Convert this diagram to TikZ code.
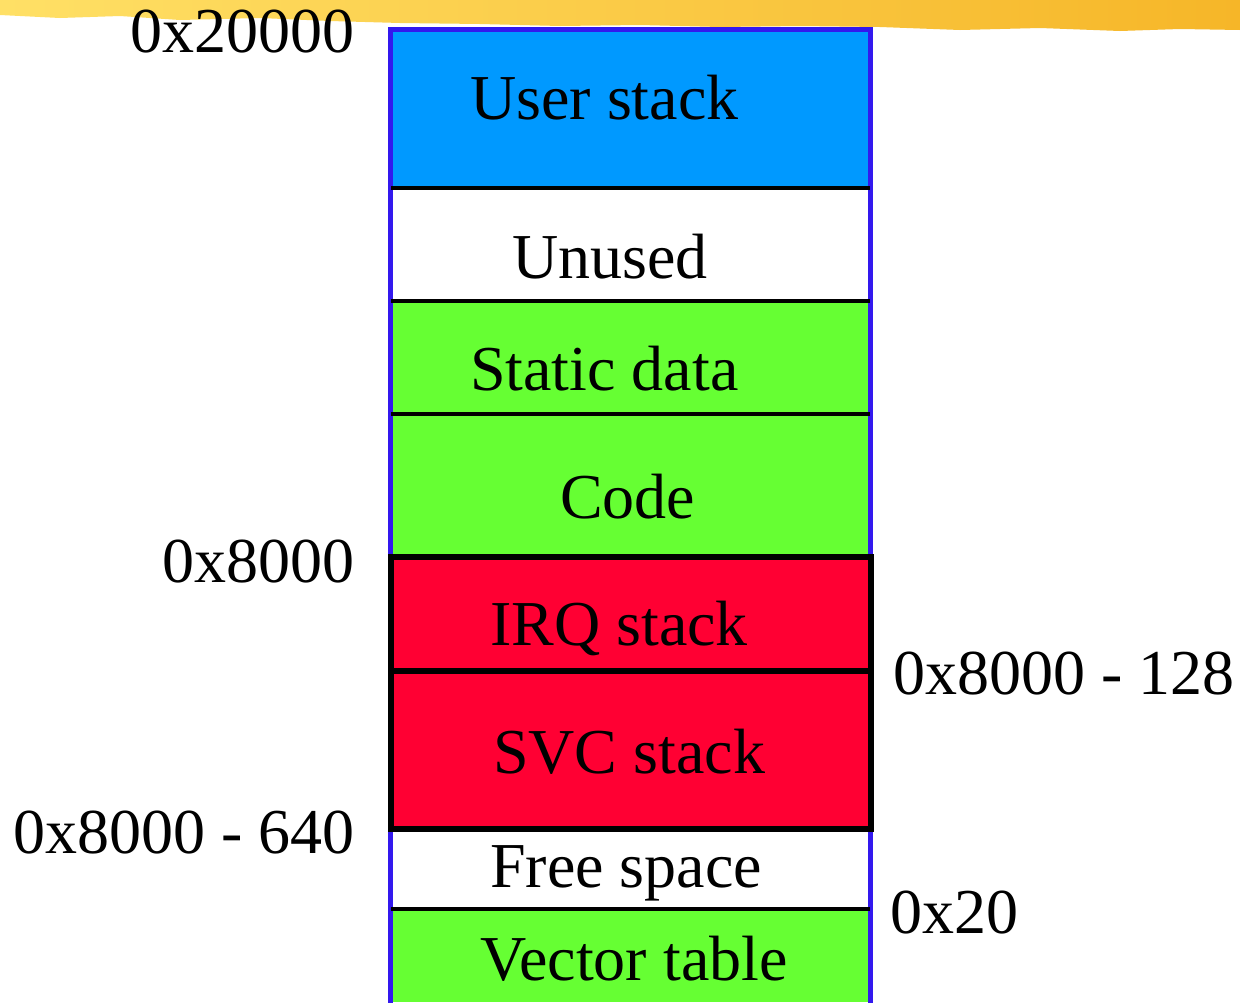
\documentclass[tikz,border=0pt]{standalone}
\usepackage{fontspec}
\setmainfont{Liberation Serif}
\begin{document}
\begin{tikzpicture}[x=1pt,y=-1pt,
  region/.style={draw=none,inner sep=0pt,outer sep=0pt,minimum width=479pt,anchor=north west},
  lbl/.style={inner sep=0pt,font=\fontsize{64}{70}\selectfont},
  sep/.style={line width=4.5pt,black}]
\definecolor{ublue}{HTML}{0099FF}
\definecolor{ugreen}{HTML}{66FF33}
\definecolor{ured}{HTML}{FF0033}
\definecolor{ubord}{HTML}{3318EE}
\definecolor{brushA}{HTML}{FFE066}
\definecolor{brushB}{HTML}{F6B628}
\fill[white] (0,0) rectangle (1240,1002);
\useasboundingbox (0,0) rectangle (1240,1002);
% brush stroke
\shade[left color=brushA,right color=brushB]
  (0,0) -- (1240,0) -- (1240,30) -- (1180,29) -- (1120,31) -- (1040,28) -- (960,30)
  -- (880,27) -- (800,26) -- (720,27) -- (640,25) -- (560,26) -- (480,24) -- (400,23)
  -- (330,21) -- (260,18) -- (180,20) -- (120,16) -- (60,18) -- (0,15) -- cycle;
% regions
\node[region,fill=ublue,minimum height=158pt] (user) at (391,30) {};
\node[region,fill=white,minimum height=113pt] (unused) at (391,188) {};
\node[region,fill=ugreen,minimum height=113pt] (static) at (391,301) {};
\node[region,fill=ugreen,minimum height=141pt] (code) at (391,414) {};
\node[region,fill=ured,minimum height=116pt] (irq) at (391,555) {};
\node[region,fill=ured,minimum height=158pt] (svc) at (391,671) {};
\node[region,fill=white,minimum height=80pt] (free) at (391,829) {};
\node[region,fill=ugreen,minimum height=93pt] (vec) at (391,909) {};
% outer border
\draw[ubord,line width=5pt] (vec.south west) ++(-0.5,5) -- (390.5,29.5) -- (870.5,29.5) -- (870.5,1007);
% separators
\draw[sep] (user.south west) -- (user.south east);
\draw[sep] (unused.south west) -- (unused.south east);
\draw[sep] (static.south west) -- (static.south east);
\draw[sep,line width=6pt] (irq.south west) -- (irq.south east);
\draw[sep] (free.south west) -- (free.south east);
\draw[black,line width=6pt] (irq.north west) ++(0,1.5) rectangle (870.5,829);
% labels inside
\node[lbl,anchor=base west] (tuser) at (470,119) {User stack};
\node[lbl,anchor=base] (tunused) at (610,278) {Unused};
\node[lbl,anchor=base west] (tstatic) at (470,390) {Static data};
\node[lbl,anchor=base west] (tcode) at (560,518) {Code};
\node[lbl,anchor=base west] (tirq) at (490,645) {IRQ stack};
\node[lbl,anchor=base west] (tsvc) at (493,773) {SVC stack};
\node[lbl,anchor=base west] (tfree) at (490,887) {Free space};
\node[lbl,anchor=base west] (tvec) at (480,980) {Vector table};
% addresses
\node[lbl,anchor=base east] (a1) at (355,52) {0x20000};
\node[lbl,anchor=base east] (a2) at (355,582) {0x8000};
\node[lbl,anchor=base east] (a3) at (355,853) {0x8000 - 640};
\node[lbl,anchor=base west] (a4) at (893,694) {0x8000 - 128};
\node[lbl,anchor=base west] (a5) at (890,933) {0x20};
\end{tikzpicture}
\end{document}
